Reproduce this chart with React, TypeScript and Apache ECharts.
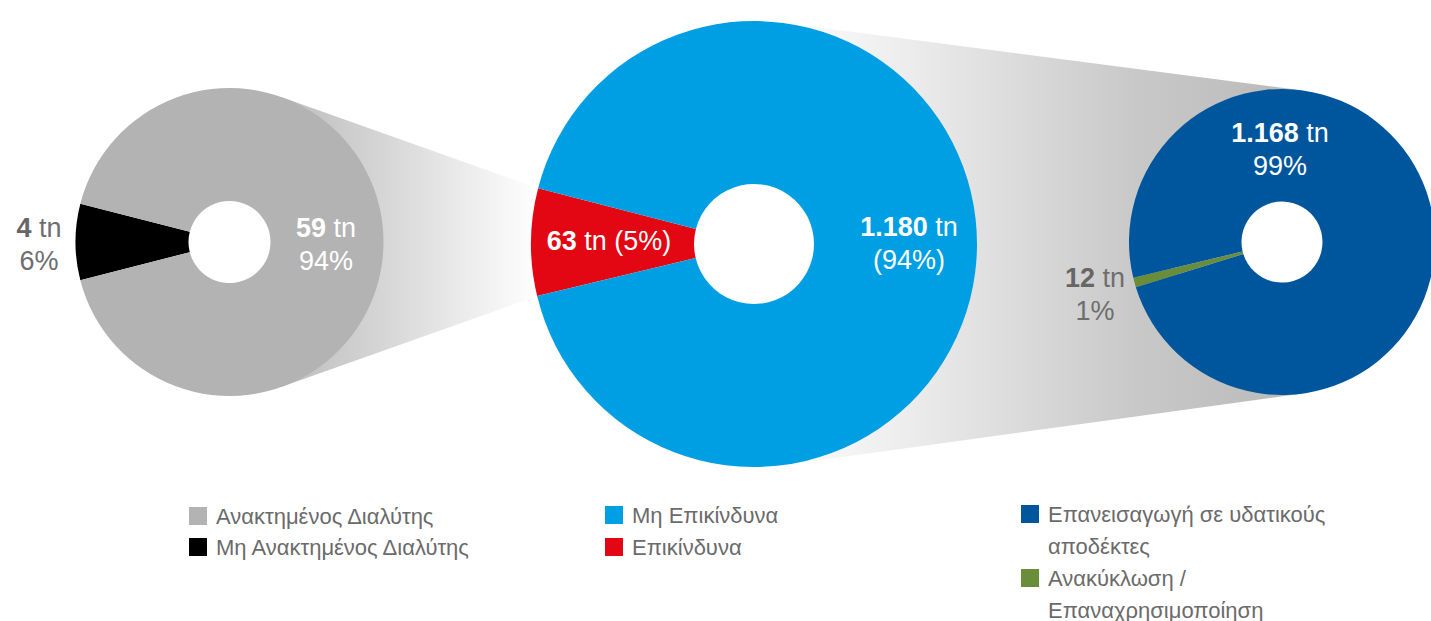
import React, { useEffect, useRef } from "react";
import * as echarts from "echarts";

const W = 1431;
const H = 621;
const FONT = "'Liberation Sans', Arial, sans-serif";

// ---------- DATA ----------
// left pie: solvent (breakdown of hazardous waste)
const solventNames = ["Μη Ανακτημένος Διαλύτης", "Ανακτημένος Διαλύτης"];
const solventValues = [4, 59];
const solventPct = ["6%", "94%"];

// middle pie: waste
const wasteNames = ["Επικίνδυνα", "Μη Επικίνδυνα"];
const wasteValues = [63, 1180];
const wastePct = ["5%", "94%"];

// right pie: non-hazardous destination
const waterNames = ["Ανακύκλωση / Επαναχρησιμοποίηση", "Επανεισαγωγή σε υδατικούς αποδέκτες"];
const waterValues = [12, 1168];
const waterPct = ["1%", "99%"];

// ---------- STYLES / LAYOUT ----------
const solventColors = ["#000000", "#b3b3b3"];
const wasteColors = ["#e30613", "#009fe3"];
const waterColors = ["#6a8d3a", "#00569d"];

const L = { c: [229.5, 242], r0: 41, r: 154, start: 194.4, minAngle: 28.8 };
const M = { c: [754, 244], r0: 60, r: 223, start: 193.5, minAngle: 28 };
const R = { c: [1282, 242], r0: 40.5, r: 153, start: 197.2, minAngle: 0 };

const fmtNum = (v: number) => String(v).replace(/\B(?=(\d{3})+(?!\d))/g, ".");

const LBL = 27;
const LH = 33;
const RICH = {
  bw: { color: "#ffffff", fontWeight: "bold", fontSize: LBL, lineHeight: LH, fontFamily: FONT },
  nw: { color: "#ffffff", fontSize: LBL, lineHeight: LH, fontFamily: FONT },
  bg: { color: "#666666", fontWeight: "bold", fontSize: LBL, lineHeight: LH, fontFamily: FONT },
  ng: { color: "#6e6e6e", fontSize: LBL, lineHeight: LH, fontFamily: FONT },
};

function makeLabel(v: number, pct: string, tone: string, kind: string) {
  const b = "b" + tone;
  const n = "n" + tone;
  if (kind === "inline") return `{${b}|${fmtNum(v)}}{${n}| tn (${pct})}`;
  if (kind === "paren") return `{${b}|${fmtNum(v)}}{${n}| tn}\n{${n}|(${pct})}`;
  return `{${b}|${fmtNum(v)}}{${n}| tn}\n{${n}|${pct}}`;
}

function pieSeries(
  geo: any,
  values: number[],
  names: string[],
  pct: string[],
  colors: string[],
  tones: string[],
  kinds: string[],
  offsets: number[][]
) {
  return {
    type: "pie",
    center: geo.c,
    radius: [geo.r0, geo.r],
    startAngle: geo.start,
    minAngle: geo.minAngle,
    clockwise: true,
    silent: true,
    z: 2,
    avoidLabelOverlap: false,
    label: { show: true, position: "inside", fontFamily: FONT, rich: RICH },
    labelLine: { show: false },
    emphasis: { disabled: true },
    labelLayout: (p: any) => ({
      x: geo.c[0] + offsets[p.dataIndex][0],
      y: geo.c[1] + offsets[p.dataIndex][1],
      align: "center",
      verticalAlign: "middle",
    }),
    data: values.map((v, i) => ({
      value: v,
      name: names[i],
      itemStyle: { color: colors[i] },
      label: { formatter: makeLabel(v, pct[i], tones[i], kinds[i]) },
    })),
  };
}

// geometry helpers for the connectors
const deg = Math.PI / 180;
function onCircle(c: number[], r: number, aDeg: number) {
  return [c[0] + r * Math.cos(aDeg * deg), c[1] - r * Math.sin(aDeg * deg)];
}
function tangentFrom(p: number[], c: number[], r: number, sign: number) {
  const dx = p[0] - c[0];
  const dy = p[1] - c[1];
  const d = Math.hypot(dx, dy);
  const b = Math.atan2(dy, dx);
  const a = Math.acos(r / d);
  const t = b + sign * a;
  return [c[0] + r * Math.cos(t), c[1] + r * Math.sin(t)];
}
function extTangent(c1: number[], r1: number, c2: number[], r2: number, sign: number) {
  const dx = c2[0] - c1[0];
  const dy = c2[1] - c1[1];
  const D = Math.hypot(dx, dy);
  const th = Math.atan2(dy, dx);
  const phi = th + sign * Math.acos((r1 - r2) / D);
  const n = [Math.cos(phi), Math.sin(phi)];
  return [
    [c1[0] + r1 * n[0], c1[1] + r1 * n[1]],
    [c2[0] + r2 * n[0], c2[1] + r2 * n[1]],
  ];
}

function buildConnectors() {
  // left: from left pie to the red slice of the middle pie
  const redTop = onCircle(M.c, M.r, M.start - M.minAngle);
  const redBot = onCircle(M.c, M.r, M.start);
  const tTop = tangentFrom(redTop, L.c, L.r, -1);
  const tBot = tangentFrom(redBot, L.c, L.r, 1);
  const left = {
    type: "polygon",
    z: 0,
    silent: true,
    shape: { points: [tTop, redTop, redBot, tBot] },
    style: {
      fill: new echarts.graphic.LinearGradient(0, 0, 1, 0, [
        { offset: 0, color: "#bcbcbc" },
        { offset: 0.4, color: "#d6d6d6" },
        { offset: 1, color: "#ffffff" },
      ]),
    },
  };
  // right: from middle pie to right pie
  const up = extTangent(M.c, M.r, R.c, R.r, -1);
  const dn = extTangent(M.c, M.r, R.c, R.r, 1);
  const right = {
    type: "polygon",
    z: 0,
    silent: true,
    shape: {
      points: [
        up[0],
        up[1],
        [R.c[0] - R.r * 0.9, R.c[1]],
        dn[1],
        dn[0],
        [M.c[0] + M.r * 0.9, M.c[1]],
      ],
    },
    style: {
      fill: new echarts.graphic.LinearGradient(0, 0, 1, 0, [
        { offset: 0, color: "#fcfcfc" },
        { offset: 0.22, color: "#eeeeee" },
        { offset: 0.67, color: "#c9c9c9" },
        { offset: 1, color: "#b9b9b9" },
      ]),
    },
  };
  return [left, right];
}

// simple word wrap by character budget
function wrap(text: string, maxChars: number) {
  const words = text.split(" ");
  const lines: string[] = [];
  let cur = "";
  words.forEach((w) => {
    const next = cur ? cur + " " + w : w;
    if (next.length > maxChars && cur) {
      lines.push(cur);
      cur = w;
    } else {
      cur = next;
    }
  });
  if (cur) lines.push(cur);
  return lines;
}

function legendGroup(
  x: number,
  y0: number,
  lineStep: number,
  names: string[],
  colors: string[],
  maxChars: number
) {
  const els: any[] = [];
  let cy = y0;
  names.forEach((nm, i) => {
    const lines = wrap(nm, maxChars);
    els.push({
      type: "rect",
      silent: true,
      shape: { x, y: cy - 9, width: 18, height: 18 },
      style: { fill: colors[i] },
    });
    els.push({
      type: "text",
      silent: true,
      x: x + 27,
      y: cy - lineStep / 2,
      style: {
        text: lines.join("\n"),
        fill: "#6b6b6b",
        fontSize: 22,
        fontFamily: FONT,
        lineHeight: lineStep,
        verticalAlign: "top",
        align: "left",
      },
    });
    cy += lines.length * lineStep;
  });
  return els;
}

function buildOption() {
  const rev = (a: any[]) => a.slice().reverse();
  return {
    animation: false,
    backgroundColor: "#ffffff",
    graphic: {
      elements: [
        ...buildConnectors(),
        ...legendGroup(189, 516, 31, rev(solventNames), rev(solventColors), 60),
        ...legendGroup(605, 515, 32, rev(wasteNames), rev(wasteColors), 60),
        ...legendGroup(1021, 514, 32, rev(waterNames), rev(waterColors), 26),
      ],
    },
    series: [
      pieSeries(
        L,
        solventValues,
        solventNames,
        solventPct,
        solventColors,
        ["g", "w"],
        ["stack", "stack"],
        [
          [-190.5, 2],
          [96.5, 2],
        ]
      ),
      pieSeries(
        M,
        wasteValues,
        wasteNames,
        wastePct,
        wasteColors,
        ["w", "w"],
        ["inline", "paren"],
        [
          [-145, -3],
          [155, -1],
        ]
      ),
      pieSeries(
        R,
        waterValues,
        waterNames,
        waterPct,
        waterColors,
        ["g", "w"],
        ["stack", "stack"],
        [
          [-187, 52],
          [-2, -93],
        ]
      ),
    ],
  };
}

export default function App() {
  const ref = useRef<HTMLDivElement>(null);
  useEffect(() => {
    if (!ref.current) return;
    const chart = echarts.init(ref.current, null, { renderer: "svg" });
    chart.setOption(buildOption() as any);
    return () => chart.dispose();
  }, []);
  return (
    <div
      ref={ref}
      style={{ position: "fixed", left: 0, top: 0, width: W, height: H, background: "#fff" }}
    />
  );
}
